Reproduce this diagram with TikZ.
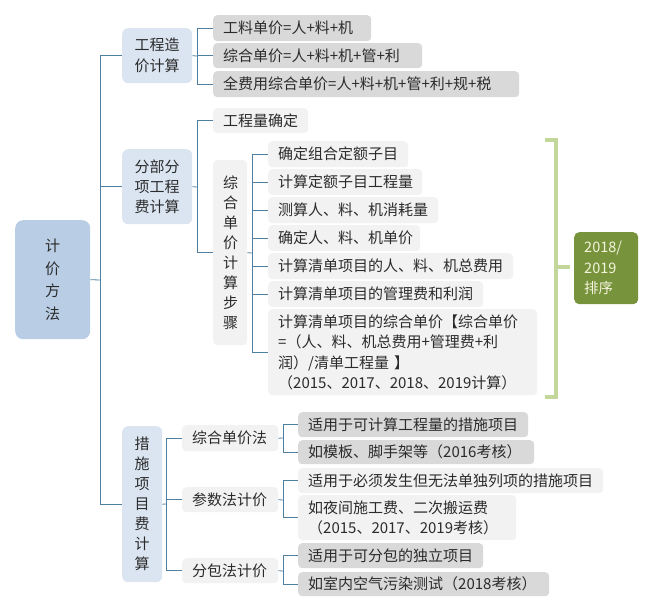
\documentclass[tikz,border=0pt]{standalone}
\usepackage{fontspec}
\setmainfont{Noto Sans CJK SC}
\definecolor{lineC}{HTML}{4F7FA0}
\definecolor{rootC}{HTML}{B9CDE5}
\definecolor{lvlC}{HTML}{DBE5F1}
\definecolor{lightC}{HTML}{F2F2F2}
\definecolor{darkC}{HTML}{D9D9D9}
\definecolor{txtC}{HTML}{2B2B2B}
\definecolor{brC}{HTML}{C4D79B}
\definecolor{grC}{HTML}{77933C}
\definecolor{grT}{HTML}{F4F4DC}
\begin{document}
\begin{tikzpicture}[x=1pt,y=-1pt,
  every node/.style={inner sep=0pt,font=\fontsize{15}{20}\selectfont,text=txtC},
  bx/.style 2 args={anchor=north west,minimum width=#1pt,minimum height=#2pt,
    /utils/exec={\pgfmathsetlengthmacro\mytw{#1pt-20pt}},text width=\mytw,
    align=left,rounded corners=4pt},
  lt/.style={fill=lightC},
  dk/.style={fill=darkC},
  conn/.style={draw=lineC,line width=0.8pt},
  grbr/.style={draw=brC,line width=3.5pt}]
\useasboundingbox (0,0) rectangle (654,613);
% root
\node[bx={75}{119},fill=rootC,rounded corners=8pt,align=center,font=\fontsize{15}{22.5}\selectfont] (root) at (15,220) {计\\价\\方\\法};
% level 1
\node[bx={70}{55},fill=lvlC,rounded corners=6pt,align=center,font=\fontsize{15}{21}\selectfont] (gczj) at (122,28) {工程造\\价计算};
\node[bx={70}{75},fill=lvlC,rounded corners=6pt,align=center] (fbfx) at (122,149) {分部分\\项工程\\费计算};
\node[bx={40}{156},fill=lvlC,rounded corners=6pt,align=center] (csxm) at (122,426) {措\\施\\项\\目\\费\\计\\算};
% 工程造价计算 children
\node[bx={158}{26},dk] (g1) at (213,15) {工料单价=人+料+机};
\node[bx={209}{25},dk] (g2) at (213,43) {综合单价=人+料+机+管+利};
\node[bx={306}{26},dk] (g3) at (213,71) {全费用综合单价=人+料+机+管+利+规+税};
% 分部分项 children
\node[bx={95}{25},lt] (gcl) at (213,108) {工程量确定};
\node[bx={34}{185},lt,align=center] (zh) at (213,160) {综\\合\\单\\价\\计\\算\\步\\骤};
% steps
\node[bx={140}{26},lt] (s1) at (268,141) {确定组合定额子目};
\node[bx={154}{26},lt] (s2) at (268,169) {计算定额子目工程量};
\node[bx={170}{26},lt] (s3) at (268,197) {测算人、料、机消耗量};
\node[bx={152}{26},lt] (s4) at (268,225) {确定人、料、机单价};
\node[bx={245}{26},lt] (s5) at (268,253) {计算清单项目的人、料、机总费用};
\node[bx={215}{26},lt] (s6) at (268,281) {计算清单项目的管理费和利润};
\node[bx={269}{86},lt,font=\fontsize{15}{20.5}\selectfont] (s7) at (268,309) {计算清单项目的综合单价【综合单价\\=（人、料、机总费用+管理费+利\\润）/清单工程量 】\\（2015、2017、2018、2019计算）};
% green note
\node[bx={64}{72},fill=grC,text=grT,rounded corners=5pt,font=\fontsize{14.5}{20.5}\selectfont] (px) at (574,232) {2018/\\2019\\排序};
% 措施项目 children
\node[bx={96}{26},lt] (m1) at (182,425) {综合单价法};
\node[bx={96}{25},lt] (m2) at (182,487) {参数法计价};
\node[bx={96}{25},lt] (m3) at (182,558) {分包法计价};
\node[bx={230}{25},dk] (a1) at (298,412) {适用于可计算工程量的措施项目};
\node[bx={236}{24},dk] (a2) at (298,440) {如模板、脚手架等（2016考核）};
\node[bx={305}{25},lt] (b1) at (298,468) {适用于必须发生但无法单独列项的措施项目};
\node[bx={218}{45},lt] (b2) at (298,495) {如夜间施工费、二次搬运费\\（2015、2017、2019考核）};
\node[bx={185}{25},dk] (c1) at (298,543) {适用于可分包的独立项目};
\node[bx={251}{24},dk] (c2) at (298,572) {如室内空气污染测试（2018考核）};
% joints
\coordinate (j0) at (100,280);
\coordinate (jg) at (197,56);
\coordinate (jf) at (197,187);
\coordinate (jz) at (252,253);
\coordinate (jc) at (166,504);
\coordinate (ja) at (283,438);
\coordinate (jb) at (283,500);
\coordinate (jd) at (283,571);
% connectors
\draw[conn] (root.east) -- (j0);
\draw[conn] (gczj.west) -| (j0);
\draw[conn] (fbfx.west) -| (j0);
\draw[conn] (csxm.west) -| (j0);
\draw[conn] (gczj.east) -- (jg);
\foreach \n in {g1,g2,g3} \draw[conn] (jg) |- (\n.west);
\draw[conn] (fbfx.east) -- (jf);
\foreach \n in {gcl,zh} \draw[conn] (jf) |- (\n.west);
\draw[conn] (zh.east) -- (jz);
\foreach \n in {s1,s2,s3,s4,s5,s6,s7} \draw[conn] (jz) |- (\n.west);
\draw[conn] (csxm.east) -- (jc);
\foreach \n in {m1,m2,m3} \draw[conn] (jc) |- (\n.west);
\draw[conn] (m1.east) -- (ja);
\foreach \n in {a1,a2} \draw[conn] (ja) |- (\n.west);
\draw[conn] (m2.east) -- (jb);
\foreach \n in {b1,b2} \draw[conn] (jb) |- (\n.west);
\draw[conn] (m3.east) -- (jd);
\foreach \n in {c1,c2} \draw[conn] (jd) |- (\n.west);
% green bracket
\coordinate (bt) at (545,140);
\coordinate (bb) at (545,397);
\coordinate (bm) at (570,267);
\draw[grbr] (bt) -- (556,140) -- (556,397) -- (bb);
\draw[grbr] (556,267) -- (bm);
\end{tikzpicture}
\end{document}
